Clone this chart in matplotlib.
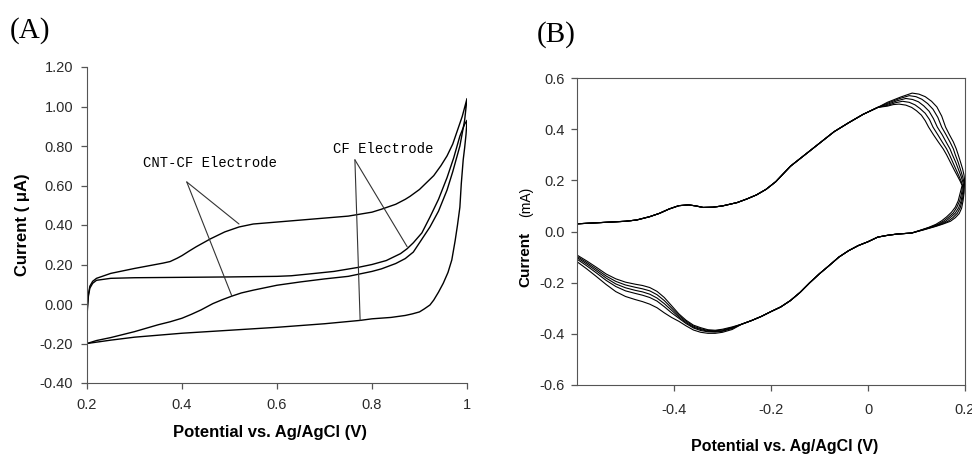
import matplotlib
matplotlib.use("Agg")
import matplotlib.pyplot as plt

plt.rcParams['font.family'] = ['Liberation Sans', 'DejaVu Sans']

# ---- Panel A: CNT-CF vs CF electrode (potential in V, current in uA)
cnt_fwd_x = [0.200, 0.201, 0.203, 0.206, 0.212, 0.22, 0.25, 0.30, 0.34, 0.36, 0.375, 0.39, 0.40,
             0.415, 0.43, 0.46, 0.49, 0.52, 0.55, 0.60, 0.65, 0.70, 0.75, 0.80, 0.82, 0.85,
             0.87, 0.88, 0.90, 0.915, 0.93, 0.945, 0.958, 0.97, 0.98, 0.99, 1.00]
cnt_fwd_y = [-0.07, -0.01, 0.05, 0.09, 0.115, 0.13, 0.155, 0.18, 0.198, 0.207, 0.215, 0.232,
             0.245, 0.268, 0.29, 0.33, 0.365, 0.39, 0.405, 0.415, 0.425, 0.435, 0.445, 0.465,
             0.48, 0.505, 0.53, 0.545, 0.58, 0.615, 0.65, 0.70, 0.75, 0.81, 0.88, 0.95, 1.04]
cnt_rev_x = [1.00, 0.995, 0.985, 0.97, 0.958, 0.94, 0.922, 0.90, 0.887, 0.87, 0.85, 0.82, 0.80,
             0.75, 0.70, 0.65, 0.60, 0.55, 0.525, 0.505, 0.485, 0.465, 0.44, 0.42, 0.40, 0.375,
             0.35, 0.30, 0.25, 0.22, 0.20]
cnt_rev_y = [1.04, 0.93, 0.80, 0.67, 0.577, 0.47, 0.39, 0.31, 0.263, 0.23, 0.205, 0.178, 0.165,
             0.14, 0.127, 0.112, 0.095, 0.07, 0.056, 0.04, 0.022, 0.002, -0.03, -0.052, -0.072,
             -0.09, -0.105, -0.14, -0.17, -0.185, -0.20]
cf_fwd_x = [0.200, 0.201, 0.203, 0.206, 0.212, 0.22, 0.25, 0.30, 0.40, 0.50, 0.60, 0.63, 0.68,
            0.72, 0.77, 0.80, 0.83, 0.86, 0.874, 0.887, 0.905, 0.922, 0.94, 0.958, 0.972, 0.985,
            0.995, 1.00]
cf_fwd_y = [-0.07, -0.02, 0.04, 0.08, 0.105, 0.12, 0.13, 0.133, 0.135, 0.137, 0.14, 0.143, 0.155,
            0.165, 0.185, 0.20, 0.22, 0.255, 0.28, 0.31, 0.36, 0.44, 0.53, 0.64, 0.74, 0.85,
            0.91, 0.93]
cf_rev_x = [1.00, 0.998, 0.995, 0.992, 0.988, 0.985, 0.98, 0.975, 0.968, 0.96, 0.95, 0.94, 0.93,
            0.922, 0.91, 0.90, 0.885, 0.87, 0.84, 0.80, 0.775, 0.70, 0.60, 0.50, 0.40, 0.30,
            0.25, 0.20]
cf_rev_y = [0.93, 0.86, 0.79, 0.73, 0.61, 0.49, 0.40, 0.32, 0.223, 0.16, 0.105, 0.06, 0.02,
            -0.005, -0.025, -0.04, -0.05, -0.058, -0.068, -0.075, -0.083, -0.10, -0.118, -0.133,
            -0.148, -0.168, -0.183, -0.20]

a_xticks = [0.2, 0.4, 0.6, 0.8, 1.0]
a_xticklabels = ['0.2', '0.4', '0.6', '0.8', '1']
a_yticks = [-0.4, -0.2, 0.0, 0.2, 0.4, 0.6, 0.8, 1.0, 1.2]

# ---- Panel B: repeated cycles (potential in V, current in mA)
b_anod_x = [-0.60, -0.55, -0.50, -0.477, -0.45, -0.43, -0.41, -0.39, -0.37, -0.355, -0.34,
            -0.32, -0.30, -0.27, -0.25, -0.23, -0.21, -0.19, -0.16, -0.13, -0.10, -0.07,
            -0.04, -0.01, 0.02]
b_anod_y = [0.030, 0.035, 0.040, 0.045, 0.058, 0.071, 0.088, 0.101, 0.104, 0.100, 0.094,
            0.095, 0.100, 0.113, 0.127, 0.143, 0.165, 0.195, 0.255, 0.30, 0.345, 0.39,
            0.425, 0.458, 0.485]

# anodic peak and switching region, one list per cycle
b_peak_x = [
    [0.04, 0.052, 0.064, 0.078, 0.090, 0.100, 0.110, 0.118, 0.125, 0.135, 0.145, 0.155, 0.162, 0.170, 0.178, 0.185, 0.190, 0.194],
    [0.04, 0.056, 0.071, 0.085, 0.097, 0.107, 0.118, 0.127, 0.134, 0.144, 0.153, 0.162, 0.168, 0.175, 0.182, 0.188, 0.192, 0.195],
    [0.04, 0.060, 0.078, 0.092, 0.104, 0.115, 0.126, 0.135, 0.143, 0.153, 0.161, 0.169, 0.174, 0.181, 0.187, 0.192, 0.195, 0.197],
    [0.04, 0.064, 0.085, 0.099, 0.111, 0.123, 0.134, 0.144, 0.152, 0.161, 0.169, 0.176, 0.180, 0.186, 0.191, 0.195, 0.197, 0.198],
    [0.04, 0.068, 0.091, 0.105, 0.118, 0.131, 0.142, 0.152, 0.160, 0.168, 0.176, 0.182, 0.186, 0.191, 0.195, 0.198, 0.199, 0.199],
]
b_peak_y = [
    [0.490, 0.496, 0.498, 0.494, 0.485, 0.472, 0.455, 0.433, 0.408, 0.378, 0.350, 0.323, 0.300, 0.270, 0.240, 0.215, 0.197, 0.180],
    [0.493, 0.503, 0.509, 0.505, 0.495, 0.481, 0.462, 0.437, 0.408, 0.378, 0.350, 0.323, 0.300, 0.270, 0.240, 0.215, 0.197, 0.180],
    [0.497, 0.511, 0.520, 0.516, 0.507, 0.491, 0.470, 0.441, 0.408, 0.378, 0.350, 0.323, 0.300, 0.270, 0.240, 0.215, 0.197, 0.182],
    [0.501, 0.519, 0.531, 0.527, 0.517, 0.500, 0.478, 0.446, 0.408, 0.378, 0.350, 0.323, 0.300, 0.270, 0.240, 0.215, 0.200, 0.186],
    [0.505, 0.526, 0.541, 0.537, 0.527, 0.509, 0.487, 0.451, 0.408, 0.378, 0.350, 0.323, 0.300, 0.270, 0.245, 0.220, 0.205, 0.190],
]
b_turn_x = [
    [0.190, 0.186, 0.180, 0.172, 0.162, 0.152, 0.140, 0.125, 0.108, 0.09],
    [0.193, 0.189, 0.183, 0.176, 0.166, 0.156, 0.144, 0.128, 0.110, 0.09],
    [0.195, 0.192, 0.187, 0.180, 0.170, 0.160, 0.148, 0.132, 0.112, 0.09],
    [0.197, 0.194, 0.190, 0.184, 0.175, 0.165, 0.152, 0.136, 0.114, 0.09],
    [0.198, 0.196, 0.193, 0.188, 0.180, 0.170, 0.156, 0.140, 0.116, 0.09],
]
b_turn_y = [
    [0.150, 0.120, 0.095, 0.075, 0.057, 0.042, 0.028, 0.016, 0.005, -0.006],
    [0.150, 0.120, 0.094, 0.073, 0.056, 0.041, 0.028, 0.017, 0.006, -0.006],
    [0.150, 0.120, 0.093, 0.072, 0.055, 0.040, 0.029, 0.018, 0.006, -0.006],
    [0.150, 0.120, 0.092, 0.071, 0.054, 0.040, 0.029, 0.019, 0.007, -0.006],
    [0.150, 0.120, 0.091, 0.070, 0.054, 0.040, 0.030, 0.020, 0.007, -0.006],
]
b_cath_x = [0.06, 0.04, 0.02, 0.0, -0.02, -0.04, -0.06, -0.08, -0.10, -0.12, -0.14, -0.16,
            -0.18, -0.20, -0.22, -0.24, -0.26]
b_cath_y = [-0.010, -0.015, -0.022, -0.040, -0.055, -0.075, -0.10, -0.133, -0.165, -0.20,
            -0.238, -0.27, -0.295, -0.313, -0.332, -0.348, -0.362]
b_tail_x = [-0.28, -0.30, -0.315, -0.33, -0.345, -0.36, -0.375, -0.39, -0.405, -0.42, -0.435,
            -0.45, -0.465, -0.48, -0.50, -0.52, -0.54, -0.56, -0.58, -0.60]
b_tail_y = [
    [-0.373, -0.382, -0.386, -0.384, -0.376, -0.366, -0.347, -0.322, -0.290, -0.258, -0.234, -0.219, -0.211, -0.206, -0.198, -0.185, -0.166, -0.140, -0.115, -0.092],
    [-0.375, -0.385, -0.388, -0.387, -0.380, -0.370, -0.351, -0.328, -0.299, -0.270, -0.247, -0.232, -0.224, -0.218, -0.209, -0.195, -0.174, -0.147, -0.121, -0.097],
    [-0.377, -0.388, -0.391, -0.390, -0.383, -0.374, -0.356, -0.334, -0.308, -0.282, -0.260, -0.245, -0.236, -0.230, -0.220, -0.205, -0.182, -0.154, -0.127, -0.102],
    [-0.379, -0.390, -0.393, -0.392, -0.387, -0.377, -0.360, -0.339, -0.318, -0.294, -0.272, -0.258, -0.249, -0.242, -0.232, -0.215, -0.191, -0.162, -0.134, -0.108],
    [-0.383, -0.394, -0.398, -0.398, -0.394, -0.385, -0.369, -0.351, -0.336, -0.318, -0.298, -0.284, -0.274, -0.266, -0.254, -0.235, -0.207, -0.176, -0.146, -0.118],
]

b_xticks = [-0.4, -0.2, 0.0, 0.2]
b_xticklabels = ['-0.4', '-0.2', '0', '0.2']
b_yticks = [-0.6, -0.4, -0.2, 0.0, 0.2, 0.4, 0.6]

W, H = 972, 455
fig = plt.figure(figsize=(W / 100, H / 100), dpi=100)


def px(x, y):
    return x / W, 1 - y / H


tick_col = '#2a2a2a'
spine_col = '#555555'
line_kw = dict(color='black', solid_joinstyle='round', solid_capstyle='round')

# ---------------- Panel A
axA = fig.add_axes([87 / W, 1 - 383 / H, 380 / W, 316 / H])
axA.plot(cnt_fwd_x + cnt_rev_x, cnt_fwd_y + cnt_rev_y, lw=1.0, **line_kw)
axA.plot(cf_fwd_x + cf_rev_x, cf_fwd_y + cf_rev_y, lw=1.0, **line_kw)
axA.set_xlim(0.2, 1.0)
axA.set_ylim(-0.4, 1.2)
axA.set_xticks(a_xticks)
axA.set_xticklabels(a_xticklabels)
axA.set_yticks(a_yticks)
axA.set_yticklabels(['%.2f' % v for v in a_yticks])
for s in ['top', 'right']:
    axA.spines[s].set_visible(False)
for s in ['left', 'bottom']:
    axA.spines[s].set_color(spine_col)
axA.tick_params(direction='out', length=4, width=0.9, color=spine_col,
                labelsize=10.5, labelcolor=tick_col)
axA.tick_params(axis='x', pad=7)
axA.tick_params(axis='y', pad=6)

# leader lines and labels
mono = ['Liberation Mono', 'DejaVu Sans Mono']
axA.text(0.318, 0.714, 'CNT-CF Electrode', family=mono, fontsize=10, va='center', ha='left')
axA.text(0.718, 0.785, 'CF Electrode', family=mono, fontsize=10, va='center', ha='left')
lead = dict(arrowstyle='-', lw=0.8, color='#333333', shrinkA=0, shrinkB=0)
axA.annotate('', xy=(0.52, 0.405), xytext=(0.41, 0.618), arrowprops=lead)
axA.annotate('', xy=(0.505, 0.04), xytext=(0.41, 0.618), arrowprops=lead)
axA.annotate('', xy=(0.874, 0.29), xytext=(0.764, 0.73), arrowprops=lead)
axA.annotate('', xy=(0.775, -0.082), xytext=(0.764, 0.73), arrowprops=lead)

fig.text(*px(270, 433), 'Potential vs. Ag/AgCl (V)', ha='center', va='center',
         fontsize=12, fontweight='bold')
fig.text(*px(22, 225), 'Current ( \u03bcA)', ha='center', va='center', rotation=90,
         fontsize=12, fontweight='bold')
fig.text(*px(10, 31), '(A)', ha='left', va='center', fontsize=21,
         family=['Liberation Serif', 'DejaVu Serif'])

# ---------------- Panel B
axB = fig.add_axes([577 / W, 1 - 385 / H, 388 / W, 307 / H])
for i in range(len(b_peak_x)):
    xs = b_anod_x + b_peak_x[i] + b_turn_x[i] + b_cath_x + b_tail_x
    ys = b_anod_y + b_peak_y[i] + b_turn_y[i] + b_cath_y + b_tail_y[i]
    axB.plot(xs, ys, lw=0.8, **line_kw)
axB.set_xlim(-0.6, 0.2)
axB.set_ylim(-0.6, 0.6)
axB.set_xticks(b_xticks)
axB.set_xticklabels(b_xticklabels)
axB.set_yticks(b_yticks)
axB.set_yticklabels(['%.1f' % v for v in b_yticks])
for s in axB.spines.values():
    s.set_color(spine_col)
axB.tick_params(direction='out', length=4, width=0.9, color=spine_col,
                labelsize=10.5, labelcolor=tick_col)
axB.tick_params(axis='x', pad=9)
axB.tick_params(axis='y', pad=5)

fig.text(*px(785, 447), 'Potential vs. Ag/AgCl (V)', ha='center', va='center',
         fontsize=11.5, fontweight='bold')
fig.text(*px(525, 259), 'Current', ha='center', va='center', rotation=90,
         fontsize=11, fontweight='bold')
fig.text(*px(526, 202), '(mA)', ha='center', va='center', rotation=90, fontsize=10)
fig.text(*px(537, 35), '(B)', ha='left', va='center', fontsize=21,
         family=['Liberation Serif', 'DejaVu Serif'])

fig.savefig('out.png', dpi=100)
